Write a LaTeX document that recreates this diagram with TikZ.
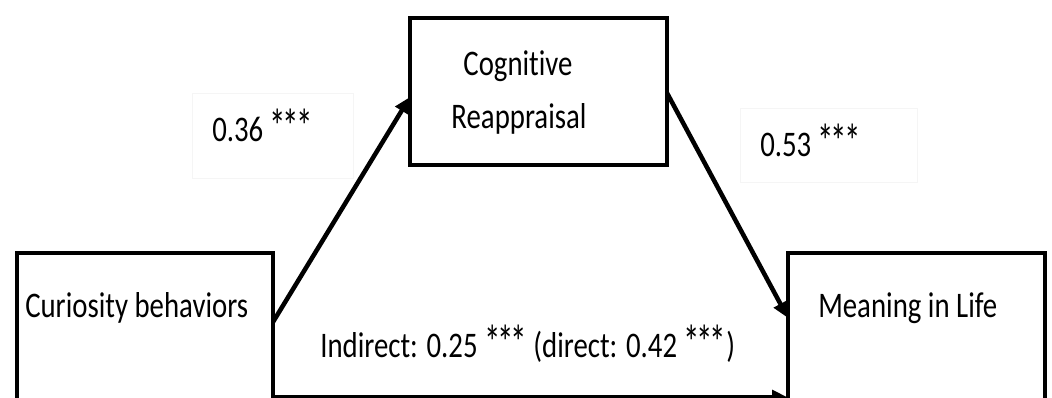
\documentclass[tikz,border=0pt]{standalone}
\usepackage{fontspec}
\setmainfont[FakeStretch=0.8, Ligatures=NoCommon]{Carlito}
\usetikzlibrary{arrows.meta,calc}
\newcommand\sig{\raisebox{-1.5pt}{\scalebox{1.15}[1.35]{*\kern-2.2pt*\kern-2.2pt*}}}
\tikzset{
  varbox/.style={draw, line width=3.6pt, inner sep=0pt, outer sep=0pt},
  txt/.style={inner sep=0pt, font=\fontsize{27}{32}\selectfont},
  path/.style={line width=3.4pt, -{Triangle[length=12pt,width=11pt]}},
  faint/.style={draw=black!4, line width=0.6pt}
}
\begin{document}
\begin{tikzpicture}[x=0.75pt, y=-0.75pt]
  \useasboundingbox (0,0) rectangle (1052,397);
  \clip (0,0) rectangle (1052,397);
  % variable boxes
  \node (cur)  [varbox, minimum width=192pt, minimum height=155.25pt] at (145,356.5) {};
  \node (cog)  [varbox, minimum width=192.75pt, minimum height=110.25pt] at (538.5,91.5) {};
  \node (mean) [varbox, minimum width=192.75pt, minimum height=155.25pt] at (916.5,356.5) {};
  % box texts
  \node (curT)  [txt, anchor=base west] at (25,317) {Curiosity behaviors};
  \node (cogT1) [txt, anchor=base] at (518,75) {Cognitive};
  \node (cogT2) [txt, anchor=base] at (519,128) {Reappraisal};
  \node (meanT) [txt, anchor=base west] at (818,317) {Meaning in Life};
  % coefficient labels with their light frames
  \draw[faint] (192,93) rectangle (353,178);
  \node (a) [txt, anchor=base west] at (212,141) {0.36 \sig};
  \draw[faint] (740,108) rectangle (917,182);
  \node (b) [txt, anchor=base west] at (760,156) {0.53 \sig};
  \node (c) [txt, anchor=base west] at (320,357) {Indirect: 0.25 \sig{} (direct: 0.42 \sig)};
  % paths
  \draw[path] ($(cur.north east)+(0,69)$) -- ($(cog.north west)+(0,79)$);
  \draw[path] ($(cog.north east)+(0,75)$) -- ($(mean.north west)+(0,65)$);
  \draw[path] ($(cur.north east)+(0,144.5)$) -- ($(mean.north west)+(0,144.5)$);
\end{tikzpicture}
\end{document}
